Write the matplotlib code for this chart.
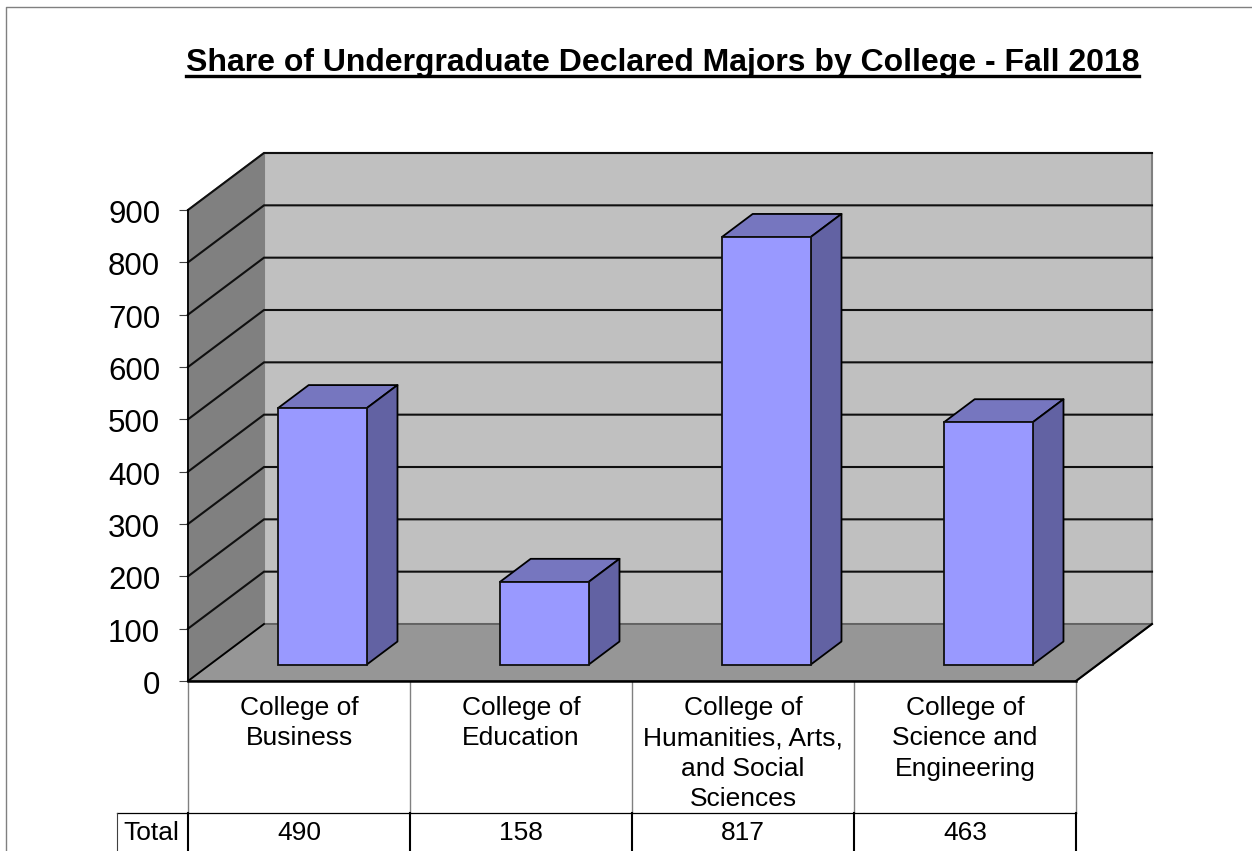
import matplotlib
matplotlib.use('Agg')
import matplotlib.pyplot as plt
from matplotlib.lines import Line2D
from matplotlib.patches import Polygon
from matplotlib.transforms import ScaledTranslation
import numpy as np

plt.rcParams['font.family'] = ['Liberation Sans', 'DejaVu Sans']

# data
categories = ['College of\nBusiness', 'College of\nEducation',
              'College of\nHumanities, Arts,\nand Social\nSciences',
              'College of\nScience and\nEngineering']
totals = [490, 158, 817, 463]
y_ticks = [0, 100, 200, 300, 400, 500, 600, 700, 800, 900]
title = 'Share of Undergraduate Declared Majors by College - Fall 2018'
row_name = 'Total'

W, H = 1252, 851
fig = plt.figure(figsize=(W / 100, H / 100), dpi=100)
ax = fig.add_axes([188 / W, (H - 681) / H, (1076 - 188) / W, (681 - 210) / H])
ax.set_xlim(0, len(categories))
ax.set_ylim(0, 900)

# one pixel in data units
px_x = len(categories) / (1076 - 188)
px_y = 900 / (681 - 210)
# depth of the fake 3d box
depth_x = 76 * px_x
depth_y = 57 * px_y
n = len(categories)


def shift(x, y, t):
    # move a point back into the box, t = 0 front, t = 1 back wall
    return x + depth_x * t, y + depth_y * t


def poly(points, color, z, edge='black', lw=1.3):
    p = Polygon(points, closed=True, facecolor=color, edgecolor=edge, linewidth=lw,
                zorder=z, clip_on=False, joinstyle='round')
    ax.add_patch(p)


# walls and floor
poly([shift(0, 0, 1), shift(n, 0, 1), shift(n, 900, 1), shift(0, 900, 1)], '#c0c0c0', 1, edge='#808080', lw=1.5)
poly([(0, 0), shift(0, 0, 1), shift(0, 900, 1), (0, 900)], '#808080', 1, edge='#808080')
poly([(0, 0), (n, 0), shift(n, 0, 1), shift(0, 0, 1)], '#969696', 1, edge='#606060')

# gridlines run over side wall and back wall
for v in y_ticks:
    if v == 0:
        continue
    x0, y0 = shift(0, v, 1)
    x1, y1 = shift(n, v, 1)
    ax.plot([0, x0, x1], [v, y0, y1], color='#101010', lw=1.5, zorder=2, clip_on=False,
            solid_joinstyle='miter')
# outer edges of the box
ax.plot([0, depth_x], [0, depth_y], color='black', lw=1.3, zorder=2, clip_on=False)
ax.plot([n, n + depth_x], [0, depth_y], color='black', lw=1.5, zorder=2, clip_on=False)

# bars
bar_w = 0.4
t0 = 0.30
t1 = 0.705
x_pos = np.arange(n) + 0.5
bx = x_pos + depth_x * t0 + 0.5 * px_x
by = np.full(n, depth_y * t0 - 0.7 * px_y)
ax.bar(bx, totals, width=bar_w, bottom=by, color='#9999ff', edgecolor='#101010', linewidth=1.3,
       zorder=5, clip_on=False)
dt = t1 - t0
for xc, yb, v in zip(bx, by, totals):
    xl, xr = xc - bar_w / 2, xc + bar_w / 2
    top = yb + v
    poly([(xl, top), (xr, top), shift(xr, top, dt), shift(xl, top, dt)], '#7676bf', 4)
    poly([(xr, yb), shift(xr, yb, dt), shift(xr, top, dt), (xr, top)], '#6262a3', 4)

# axis
for name in ['top', 'right']:
    ax.spines[name].set_visible(False)
ax.spines['left'].set_linewidth(1.3)
ax.spines['left'].set_zorder(3)
ax.spines['bottom'].set_linewidth(1.8)
ax.spines['bottom'].set_zorder(3)
ax.set_facecolor('none')
ax.set_xticks([])
ax.set_yticks(y_ticks)
ax.tick_params(axis='y', length=6.5, width=0.8, color='#404040', labelsize=22.5, pad=13.5)
# labels sit a little under their ticks in the original
for lab in ax.get_yticklabels():
    lab.set_transform(lab.get_transform() + ScaledTranslation(0, -1.5 / 100, fig.dpi_scale_trans))

# data table under the plot
row_top = -(813 - 681) * px_y
row_bot = -(851 - 681) * px_y - 5 * px_y
left_box = -(188 - 117) * px_x
for i in range(n + 1):
    ax.plot([i, i], [0, row_top], color='#808080', lw=1.0, clip_on=False, zorder=2)
    ax.plot([i, i], [row_top, row_bot], color='black', lw=1.5, clip_on=False, zorder=2)
ax.plot([left_box, n], [row_top, row_top], color='black', lw=0.9, clip_on=False, zorder=2)
ax.plot([left_box, left_box], [row_top, row_bot], color='#404040', lw=0.8, clip_on=False, zorder=2)

for i, label in enumerate(categories):
    ax.text(i + 0.5, -(696 - 681) * px_y, label, ha='center', va='top', fontsize=19,
            linespacing=1.33, clip_on=False)
    ax.text(i + 0.5, -(833 - 681) * px_y, str(totals[i]), ha='center', va='center', fontsize=19,
            clip_on=False)
ax.text(left_box / 2 - 1.5 * px_x, -(833 - 681) * px_y, row_name, ha='center', va='center', fontsize=19,
        clip_on=False)

# title, matplotlib has no underline so draw it from the text box
t = fig.text(662.5 / W, 1 - 62.5 / H, title, ha='center', va='center', fontsize=23, fontweight='bold')
fig.canvas.draw()
bb = t.get_window_extent()
fig.add_artist(Line2D([bb.x0 / W, bb.x1 / W], [1 - 75.7 / H, 1 - 75.7 / H], color='black', lw=2.4))

# chart area border, only top and left show
fig.add_artist(Line2D([6 / W, 6 / W, 1], [0, 1 - 6.5 / H, 1 - 6.5 / H], color='#808080', lw=1.0))

fig.savefig('out.png', dpi=100, facecolor='white')
